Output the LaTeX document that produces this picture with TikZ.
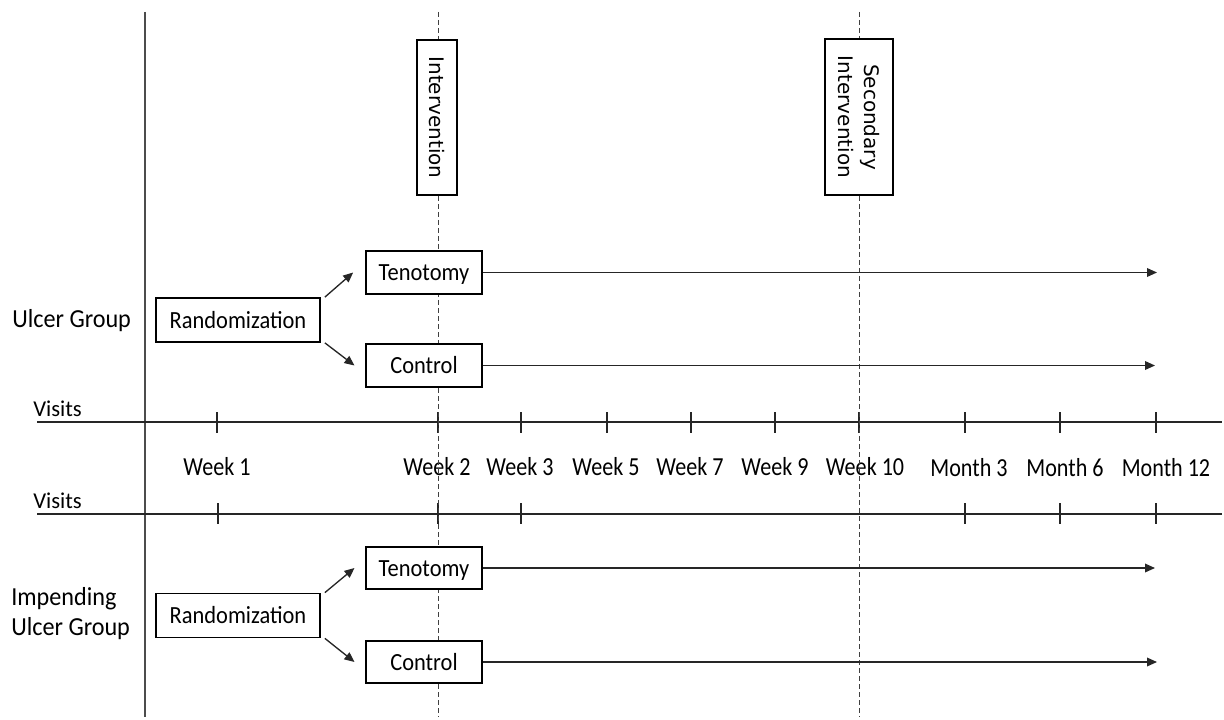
\documentclass[tikz,border=0pt]{standalone}
\usepackage{fontspec}
\setmainfont{Carlito}
\newfontfamily\verafont{DejaVu Sans}
\newfontfamily\boxfont[FakeStretch=0.91]{Carlito}
\newfontfamily\timefont[FakeStretch=0.85]{Carlito}
\newfontfamily\groupfont[FakeStretch=0.93]{Carlito}
\usetikzlibrary{arrows.meta}

\tikzset{
  box/.style={draw=black, line width=1.3pt, fill=white, inner sep=0pt,
    text height=12.3pt, text depth=0pt, font=\boxfont\fontsize{18.5}{22}\selectfont},
  randbox/.style={box, minimum width=123pt, minimum height=33pt},
  armbox/.style={box, minimum width=87pt, minimum height=32pt},
  phasebox/.style={draw=black, line width=1.3pt, fill=white, inner sep=0pt,
    rotate=-90, minimum width=116.5pt, align=center,
    font=\verafont\fontsize{15}{19.5}\selectfont},
  timeaxis/.style={line width=1pt, black!85},
  visittick/.style={line width=0.8pt, black!85},
  marker/.style={line width=0.7pt, black!75, dash pattern=on 3.5pt off 2.5pt},
  flow/.style={line width=1pt, black!85, -{Triangle[length=7.5pt,width=6.5pt]}},
  timelabel/.style={anchor=base, inner sep=0pt, font=\timefont\fontsize{19.5}{22}\selectfont},
  grouplabel/.style={inner sep=0pt, font=\groupfont\fontsize{19.5}{22.5}\selectfont}
}

\begin{document}
\begin{tikzpicture}[x=0.75pt,y=-0.75pt]
   \useasboundingbox (0,0) rectangle (1224,720);

   %% Gruppen
   \draw[line width=1pt, black!70] (145,12) -- (145,717);
   \node[grouplabel, anchor=base west] (ulcer) at (12,327) {Ulcer Group};
   \node[grouplabel, anchor=west, align=left] (impend) at (11,614) {Impending\\Ulcer Group};

   %% Zeitachsen
   \node[anchor=base west, inner sep=0pt, font=\fontsize{17}{20}\selectfont] (visits1) at (33,416) {Visits};
   \node[anchor=base west, inner sep=0pt, font=\fontsize{17}{20}\selectfont] (visits2) at (33,508) {Visits};
   \draw[timeaxis] (37,422) -- (1222,422);
   \draw[timeaxis] (37,514) -- (1222,514);

   \draw[visittick] (217,412) -- (217,433);
   \draw[visittick] (438,412) -- (438,433);
   \draw[visittick] (521,412) -- (521,433);
   \draw[visittick] (607,412) -- (607,433);
   \draw[visittick] (691,412) -- (691,433);
   \draw[visittick] (775,412) -- (775,433);
   \draw[visittick] (859,412) -- (859,433);
   \draw[visittick] (965,412) -- (965,433);
   \draw[visittick] (1060,412) -- (1060,433);
   \draw[visittick] (1156,412) -- (1156,433);

   \draw[visittick] (218,503) -- (218,524);
   \draw[visittick] (438,503) -- (438,524);
   \draw[visittick] (521,503) -- (521,524);
   \draw[visittick] (965,503) -- (965,524);
   \draw[visittick] (1060,503) -- (1060,524);
   \draw[visittick] (1156,503) -- (1156,524);

   \node[timelabel] (w1) at (217,475) {Week 1};
   \node[timelabel] (w2) at (437,475) {Week 2};
   \node[timelabel] (w3) at (520,475) {Week 3};
   \node[timelabel] (w5) at (606,475) {Week 5};
   \node[timelabel] (w7) at (690,475) {Week 7};
   \node[timelabel] (w9) at (775,475) {Week 9};
   \node[timelabel] (w10) at (865,475) {Week 10};
   \node[timelabel] (m3) at (969,476) {Month 3};
   \node[timelabel] (m6) at (1065,476) {Month 6};
   \node[timelabel] (m12) at (1166,476) {Month 12};

   %% Interventionen
   \draw[marker] (438,12) -- (438,717);
   \draw[marker] (859,12) -- (859,717);
   \node[phasebox, minimum height=30pt] (int) at (437,117.5) {Intervention};
   \node[phasebox, minimum height=51pt] (sec) at (859,117) {Secondary\\Intervention};

   %% Ulcer Group
   \node[randbox] (rand1) at (238,320) {Randomization};
   \node[armbox] (ten1) at (424,272.5) {Tenotomy};
   \node[armbox] (ctl1) at (424,365.5) {Control};
   \coordinate (end1) at (1157,0);
   \coordinate (end2) at (1155,0);
   \draw[flow] ([xshift=3pt]rand1.north east) -- ([xshift=-9pt]ten1.west);
   \draw[flow] ([xshift=3pt]rand1.south east) -- ([xshift=-8pt]ctl1.west);
   \draw[flow] (ten1) -- (ten1 -| end1);
   \draw[flow] (ctl1) -- (ctl1 -| end2);

   %% Impending Ulcer Group
   \node[randbox] (rand2) at (238,615.5) {Randomization};
   \node[armbox] (ten2) at (424,568) {Tenotomy};
   \node[armbox] (ctl2) at (424,662) {Control};
   \draw[flow] ([xshift=3pt]rand2.north east) -- ([xshift=-8pt]ten2.west);
   \draw[flow] ([xshift=3pt]rand2.south east) -- ([xshift=-8pt]ctl2.west);
   \draw[flow] (ten2) -- (ten2 -| end2);
   \draw[flow] (ctl2) -- (ctl2 -| end1);
\end{tikzpicture}
\end{document}
